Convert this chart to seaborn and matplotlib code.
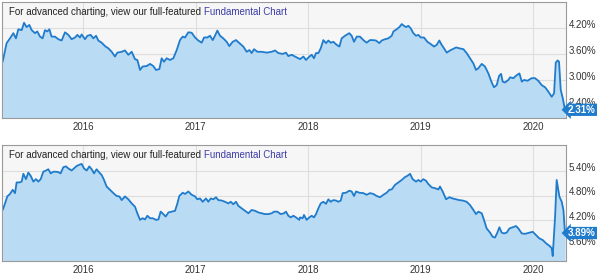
"""Two yield charts (line + area) with end-value badges, YCharts style."""
import matplotlib
matplotlib.use("Agg")
import matplotlib.pyplot as plt
import matplotlib.transforms as mtransforms
import pandas as pd
import seaborn as sns

# decimal-year positions and values
TOP_T = [
    2015.286, 2015.321, 2015.351, 2015.381, 2015.404, 2015.425, 2015.455, 2015.476, 2015.499, 2015.523,
    2015.544, 2015.573, 2015.594, 2015.618, 2015.641, 2015.662, 2015.683, 2015.701, 2015.721, 2015.751,
    2015.781, 2015.810, 2015.840, 2015.870, 2015.899, 2015.929, 2015.950, 2015.973, 2015.988, 2016.018,
    2016.039, 2016.068, 2016.092, 2016.116, 2016.136, 2016.166, 2016.196, 2016.225, 2016.255, 2016.284,
    2016.305, 2016.344, 2016.373, 2016.403, 2016.433, 2016.462, 2016.483, 2016.507, 2016.530, 2016.566,
    2016.596, 2016.625, 2016.649, 2016.679, 2016.699, 2016.720, 2016.744, 2016.773, 2016.803, 2016.833,
    2016.862, 2016.886, 2016.907, 2016.936, 2016.966, 2016.996, 2017.025, 2017.055, 2017.076, 2017.105,
    2017.129, 2017.153, 2017.173, 2017.194, 2017.218, 2017.247, 2017.277, 2017.301, 2017.330, 2017.360,
    2017.390, 2017.425, 2017.455, 2017.479, 2017.499, 2017.520, 2017.550, 2017.588, 2017.633, 2017.677,
    2017.707, 2017.736, 2017.775, 2017.804, 2017.825, 2017.855, 2017.884, 2017.914,
    2017.929, 2017.959, 2017.982, 2018.012, 2018.033, 2018.053, 2018.071, 2018.092, 2018.113, 2018.136,
    2018.160, 2018.181, 2018.201, 2018.225, 2018.255, 2018.279, 2018.299, 2018.329, 2018.367, 2018.388,
    2018.409, 2018.433, 2018.462, 2018.492, 2018.521, 2018.551, 2018.575, 2018.604, 2018.634, 2018.655,
    2018.684, 2018.714, 2018.744, 2018.759, 2018.788, 2018.812, 2018.833, 2018.853, 2018.871, 2018.892,
    2018.913, 2018.936, 2018.960, 2018.981, 2019.002, 2019.031, 2019.061, 2019.090, 2019.120, 2019.144,
    2019.167, 2019.188, 2019.209, 2019.233, 2019.262, 2019.286, 2019.316, 2019.345, 2019.381, 2019.410,
    2019.440, 2019.470, 2019.493, 2019.514, 2019.544, 2019.573, 2019.603, 2019.633, 2019.653, 2019.677,
    2019.698, 2019.716, 2019.730, 2019.751, 2019.781, 2019.796, 2019.825, 2019.855, 2019.879, 2019.900,
    2019.921, 2019.950, 2019.988, 2020.018, 2020.047, 2020.077, 2020.107, 2020.136, 2020.166, 2020.187,
    2020.202, 2020.219, 2020.231, 2020.246, 2020.264, 2020.284,
]
TOP_V = [
    3.42, 3.85, 3.96, 4.08, 3.96, 4.17, 4.15, 4.32, 4.22, 4.27,
    4.15, 4.08, 4.12, 4.00, 3.96, 4.15, 4.12, 4.17, 4.00, 4.00,
    3.94, 3.91, 4.10, 4.04, 3.94, 3.98, 4.04, 3.98, 4.05, 3.94,
    4.02, 4.04, 3.96, 4.02, 3.91, 3.86, 3.78, 3.73, 3.65, 3.54,
    3.63, 3.65, 3.68, 3.58, 3.65, 3.48, 3.46, 3.23, 3.31, 3.32,
    3.37, 3.32, 3.23, 3.25, 3.50, 3.42, 3.50, 3.46, 3.50, 3.69,
    3.92, 4.00, 3.98, 4.10, 4.09, 3.98, 3.91, 3.86, 3.98, 3.98,
    4.02, 3.92, 4.02, 4.14, 4.02, 3.96, 3.88, 3.78, 3.88, 3.92,
    3.85, 3.77, 3.65, 3.69, 3.62, 3.71, 3.65, 3.65, 3.63, 3.65,
    3.68, 3.62, 3.60, 3.63, 3.55, 3.58, 3.54, 3.50,
    3.48, 3.54, 3.46, 3.54, 3.58, 3.50, 3.62, 3.62, 3.73, 3.92,
    3.85, 3.91, 3.86, 3.88, 3.81, 3.77, 3.96, 4.02, 4.08, 4.02,
    3.88, 4.00, 4.00, 3.92, 3.86, 3.92, 3.92, 3.91, 3.85, 3.91,
    3.94, 3.96, 4.02, 4.12, 4.17, 4.22, 4.29, 4.25, 4.22, 4.25,
    4.19, 4.08, 4.02, 4.04, 3.98, 3.98, 3.88, 3.83, 3.77, 3.81,
    3.91, 3.81, 3.73, 3.63, 3.68, 3.71, 3.75, 3.73, 3.71, 3.62,
    3.50, 3.38, 3.23, 3.27, 3.37, 3.31, 3.15, 2.94, 2.83, 2.88,
    3.09, 3.14, 2.96, 2.94, 3.00, 3.06, 3.04, 3.11, 3.15, 2.96,
    3.00, 2.98, 3.04, 3.04, 2.98, 2.88, 2.83, 2.73, 2.61, 2.69,
    3.40, 3.45, 3.42, 2.77, 2.58, 2.31,
]

BOT_T = [
    2015.286, 2015.307, 2015.327, 2015.351, 2015.375, 2015.396, 2015.410, 2015.434, 2015.455, 2015.470,
    2015.493, 2015.514, 2015.535, 2015.559, 2015.582, 2015.603, 2015.624, 2015.647, 2015.671, 2015.692,
    2015.713, 2015.736, 2015.760, 2015.781, 2015.801, 2015.825, 2015.849, 2015.870, 2015.899, 2015.920,
    2015.944, 2015.967, 2015.988, 2016.009, 2016.033, 2016.056, 2016.077, 2016.098, 2016.121, 2016.145,
    2016.166, 2016.187, 2016.210, 2016.240, 2016.270, 2016.299, 2016.323, 2016.344, 2016.373, 2016.403,
    2016.433, 2016.462, 2016.483, 2016.507, 2016.530, 2016.551, 2016.572, 2016.596, 2016.619, 2016.649,
    2016.670, 2016.690, 2016.714, 2016.735, 2016.759, 2016.788, 2016.818, 2016.839, 2016.856, 2016.886,
    2016.907, 2016.936, 2016.966, 2016.996, 2017.016, 2017.040, 2017.064, 2017.093, 2017.114, 2017.135,
    2017.159, 2017.182, 2017.203, 2017.233, 2017.262, 2017.292, 2017.313, 2017.336, 2017.360, 2017.381,
    2017.410, 2017.440, 2017.470, 2017.499, 2017.529, 2017.559, 2017.588, 2017.618, 2017.647, 2017.677,
    2017.698, 2017.727, 2017.757, 2017.787, 2017.804, 2017.825, 2017.846, 2017.870, 2017.893, 2017.923,
    2017.929, 2017.953, 2017.964, 2017.988, 2018.012, 2018.033, 2018.053, 2018.071, 2018.092, 2018.113,
    2018.136, 2018.160, 2018.181, 2018.201, 2018.225, 2018.249, 2018.270, 2018.291, 2018.308, 2018.338,
    2018.367, 2018.388, 2018.409, 2018.427, 2018.456, 2018.492, 2018.521, 2018.551, 2018.581, 2018.610,
    2018.640, 2018.670, 2018.699, 2018.723, 2018.744, 2018.773, 2018.803, 2018.833, 2018.862, 2018.883,
    2018.907, 2018.930, 2018.960, 2018.981, 2019.002, 2019.025, 2019.049, 2019.070, 2019.099, 2019.129,
    2019.159, 2019.173, 2019.197, 2019.227, 2019.256, 2019.286, 2019.316, 2019.345, 2019.375, 2019.410,
    2019.440, 2019.470, 2019.493, 2019.514, 2019.544, 2019.564, 2019.588, 2019.618, 2019.641, 2019.662,
    2019.683, 2019.701, 2019.721, 2019.742, 2019.766, 2019.790, 2019.819, 2019.849, 2019.870, 2019.900,
    2019.929, 2019.968, 2019.997, 2020.027, 2020.056, 2020.086, 2020.116, 2020.145, 2020.166, 2020.175,
    2020.196, 2020.210, 2020.234, 2020.255, 2020.270, 2020.284,
]
BOT_V = [
    4.45, 4.61, 4.78, 4.84, 4.94, 4.86, 5.12, 5.12, 5.14, 5.33,
    5.20, 5.36, 5.28, 5.14, 5.20, 5.14, 5.20, 5.38, 5.41, 5.44,
    5.34, 5.38, 5.38, 5.37, 5.34, 5.49, 5.51, 5.46, 5.41, 5.46,
    5.52, 5.55, 5.57, 5.46, 5.41, 5.51, 5.44, 5.34, 5.44, 5.36,
    5.30, 5.18, 5.02, 4.94, 4.86, 4.79, 4.78, 4.69, 4.78, 4.71,
    4.61, 4.53, 4.37, 4.21, 4.25, 4.22, 4.31, 4.25, 4.25, 4.21,
    4.22, 4.41, 4.35, 4.29, 4.39, 4.41, 4.43, 4.61, 4.79, 4.87,
    4.84, 4.90, 4.82, 4.78, 4.71, 4.73, 4.65, 4.73, 4.65, 4.73,
    4.71, 4.76, 4.69, 4.68, 4.65, 4.61, 4.65, 4.59, 4.65, 4.55,
    4.49, 4.43, 4.37, 4.45, 4.43, 4.39, 4.37, 4.35, 4.35, 4.37,
    4.41, 4.41, 4.35, 4.37, 4.41, 4.31, 4.27, 4.31, 4.27, 4.21,
    4.27, 4.25, 4.33, 4.21, 4.27, 4.31, 4.27, 4.35, 4.49, 4.61,
    4.65, 4.60, 4.71, 4.65, 4.69, 4.68, 4.65, 4.68, 4.86, 4.87,
    4.92, 4.90, 4.79, 4.90, 4.87, 4.86, 4.82, 4.86, 4.84, 4.79,
    4.76, 4.82, 4.87, 4.94, 4.95, 5.06, 5.12, 5.18, 5.25, 5.28,
    5.33, 5.20, 5.14, 5.18, 5.14, 5.20, 5.16, 5.08, 5.00, 4.98,
    4.95, 5.02, 4.90, 4.71, 4.76, 4.73, 4.71, 4.69, 4.68, 4.65,
    4.57, 4.45, 4.35, 4.41, 4.37, 4.21, 4.00, 3.90, 3.80, 3.78,
    3.90, 4.03, 3.90, 3.88, 3.90, 4.00, 4.03, 4.06, 4.00, 3.88,
    3.87, 3.90, 3.92, 3.84, 3.76, 3.72, 3.64, 3.58, 3.52, 3.33,
    4.29, 5.18, 4.78, 4.65, 4.45, 3.89,
]

YEARS = [2016, 2017, 2018, 2019, 2020]
TOP_TICKS = [2.40, 3.00, 3.60, 4.20]
BOT_TICKS = [3.60, 4.20, 4.80, 5.40]
TOP_LAST = "2.31%"
BOT_LAST = "3.89%"

LINE = "#1f7bcc"
FILL = "#b9dbf4"
GRID = "#dedede"
TEXT = "#333333"
LINK = "#3c3ca8"


def draw_panel(ax, t, v, ylim, yticks, last_label):
    df = pd.DataFrame({"t": t, "v": v})
    ax.set_facecolor("#f6f6f6")
    ax.fill_between(df["t"], df["v"], ylim[0], color=FILL, lw=0, zorder=2)
    sns.lineplot(data=df, x="t", y="v", ax=ax, color=LINE, lw=1.3, zorder=3,
                 sort=False, estimator=None)
    ax.set_xlim(2015.28, 2020.293)
    ax.set_ylim(*ylim)
    ax.set_xticks(YEARS)
    ax.set_xticklabels([str(y) for y in YEARS])
    ax.set_yticks(yticks)
    ax.set_yticklabels([f"{y:.2f}%" for y in yticks])
    ax.yaxis.tick_right()
    ax.tick_params(length=0, labelsize=7, labelcolor=TEXT)
    ax.tick_params(axis="y", pad=2)
    ax.tick_params(axis="x", pad=3)
    ax.grid(True, color=GRID, lw=0.8, zorder=1)
    ax.set_axisbelow(True)
    ax.set_xlabel("")
    ax.set_ylabel("")
    for s in ax.spines.values():
        s.set_color("#9a9a9a")
        s.set_linewidth(0.8)
        s.set_zorder(5)
    # tick labels sit a little above their gridlines
    shift = mtransforms.ScaledTranslation(0, 3 / 72, ax.figure.dpi_scale_trans)
    for lab in ax.get_yticklabels():
        lab.set_transform(lab.get_transform() + shift)

    head = ax.text(0.0125, 0.915, "For advanced charting, view our full-featured ",
                   transform=ax.transAxes, fontsize=7, color="#222222",
                   va="center", ha="left", zorder=6)
    ax.annotate("Fundamental Chart", xy=(1, 0.5), xycoords=head, va="center",
                ha="left", fontsize=7, color=LINK, zorder=6)

    ax.annotate(last_label, xy=(1, v[-1]), xycoords=("axes fraction", "data"),
                xytext=(1.5, 0), textcoords="offset points", ha="left", va="center",
                fontsize=7, fontweight="bold", color="white", zorder=10,
                annotation_clip=False,
                bbox=dict(boxstyle="larrow,pad=0.12", fc=LINE, ec=LINE, lw=0))


def main():
    sns.set_style("white")
    plt.rcParams["font.family"] = ["Liberation Sans", "DejaVu Sans"]

    fig = plt.figure(figsize=(6, 2.8), dpi=100)
    ax_top = fig.add_axes([2 / 600, 162 / 280, 564 / 600, 116 / 280])
    ax_bot = fig.add_axes([2 / 600, 19 / 280, 564 / 600, 116 / 280])

    draw_panel(ax_top, TOP_T, TOP_V, (2.12, 4.80), TOP_TICKS, TOP_LAST)
    draw_panel(ax_bot, BOT_T, BOT_V, (3.21, 6.03), BOT_TICKS, BOT_LAST)

    fig.savefig("out.png", dpi=100, facecolor="white")
    plt.close(fig)


if __name__ == "__main__":
    main()
